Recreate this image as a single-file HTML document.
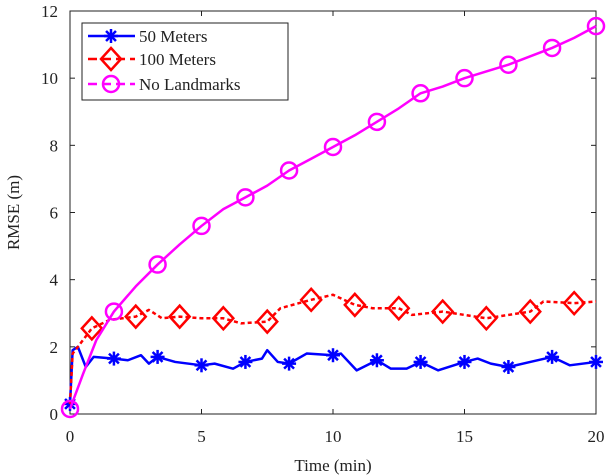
<!DOCTYPE html>
<html><head><meta charset="utf-8"><style>
body{margin:0;background:#fff}
svg{display:block;font-family:"Liberation Serif",serif}
</style></head><body>
<svg id="chart" width="606" height="476">
<rect x="0" y="0" width="606" height="476" fill="#fff"/>
<g id="axes"></g>
<g id="series"></g>
<g id="legend"></g>
</svg>
<script>
const blueT=[0,0.1,0.3,0.6,0.9,1.67,2.2,2.7,3,3.33,4,5,5.5,6.2,6.67,7.3,7.5,7.9,8.33,9,10,10.3,10.9,11.67,12.2,12.8,13.33,14,15,15.5,16,16.67,17.5,18.33,19,20];
const blueV=[0.3,1.9,2.0,1.4,1.7,1.65,1.6,1.75,1.5,1.7,1.55,1.45,1.5,1.35,1.55,1.65,1.9,1.55,1.5,1.8,1.75,1.8,1.3,1.6,1.35,1.35,1.55,1.3,1.55,1.65,1.5,1.4,1.55,1.7,1.45,1.55];
const redT=[0,0.1,0.3,0.83,1.5,2.5,3,3.5,4.17,5,5.83,6.5,7.5,8,9.17,10,10.83,11.5,12.5,13,14.17,15,15.83,16.67,17.5,18,19.17,20];
const redV=[0.3,1.8,2.0,2.55,2.8,2.9,3.1,2.85,2.9,2.85,2.85,2.7,2.75,3.15,3.4,3.55,3.25,3.15,3.15,2.95,3.05,2.95,2.85,2.95,3.05,3.35,3.3,3.35];
const magT=[0,0.5,1,1.67,2.5,3.33,4.17,5,5.83,6.67,7.5,8.33,9.17,10,10.83,11.67,12.5,13.33,14.17,15,15.83,16.67,17.5,18.33,19.17,20];
const magV=[0.15,1.2,2.2,3.05,3.8,4.45,5.05,5.6,6.1,6.45,6.8,7.25,7.6,7.95,8.3,8.7,9.1,9.55,9.75,10.0,10.2,10.4,10.65,10.9,11.2,11.55];
const blueMarkT=[0,1.67,3.33,5,6.67,8.33,10,11.67,13.33,15,16.67,18.33,20];
const redMarkT=[0.83,2.5,4.17,5.83,7.5,9.17,10.83,12.5,14.17,15.83,17.5,19.17];
const magMarkT=[0,1.67,3.33,5,6.67,8.33,10,11.67,13.33,15,16.67,18.33,20];
const xTicks=[0,5,10,15,20];
const yTicks=[0,2,4,6,8,10,12];
const legendLabels=["50 Meters","100 Meters","No Landmarks"];

const NS="http://www.w3.org/2000/svg";
const L=70,R=596,T=11,B=414;
const xs=v=>L+(v/20)*(R-L);
const ys=v=>B-(v/12)*(B-T);
function mk(tag,attrs,parent){const e=document.createElementNS(NS,tag);for(const k in attrs)e.setAttribute(k,attrs[k]);parent.appendChild(e);return e;}
function interp(T_,V,t){for(let i=0;i<T_.length-1;i++){if(t<=T_[i+1])return V[i]+(V[i+1]-V[i])*(t-T_[i])/(T_[i+1]-T_[i]);}return V[V.length-1];}
const ax=document.getElementById('axes');
const frame=mk('rect',{x:L,y:T,width:R-L,height:B-T,fill:'none',stroke:'#222','stroke-width':1},ax);


xTicks.forEach(v=>{
 const x=xs(v);
 mk('line',{x1:x,y1:B,x2:x,y2:B-5,stroke:'#222'},ax);
 mk('line',{x1:x,y1:T,x2:x,y2:T+5,stroke:'#222'},ax);
 const t=mk('text',{x:x,y:B+28,'text-anchor':'middle','font-size':17,fill:'#222'},ax);
 t.textContent=v;
 
 
});
yTicks.forEach(v=>{
 const y=ys(v);
 mk('line',{x1:L,y1:y,x2:L+5,y2:y,stroke:'#222'},ax);
 mk('line',{x1:R,y1:y,x2:R-5,y2:y,stroke:'#222'},ax);
 const t=mk('text',{x:L-12,y:y+6,'text-anchor':'end','font-size':17,fill:'#222'},ax);
 t.textContent=v;
 
 
});
const xt=mk('text',{x:(L+R)/2,y:471,'text-anchor':'middle','font-size':17,fill:'#222'},ax);
xt.textContent='Time (min)';


const yt=mk('text',{x:0,y:0,'text-anchor':'middle','font-size':17,fill:'#222',transform:`translate(19,${(T+B)/2}) rotate(-90)`},ax);
yt.textContent='RMSE (m)';



function star(g,x,y,c){for(let a=0;a<4;a++){const an=a*Math.PI/4;mk('line',{x1:x-7*Math.cos(an),y1:y-7*Math.sin(an),x2:x+7*Math.cos(an),y2:y+7*Math.sin(an),stroke:c,'stroke-width':2.5},g);}}
function diamond(g,x,y,c){mk('polygon',{points:`${x},${y-11} ${x+10},${y} ${x},${y+11} ${x-10},${y}`,fill:'none',stroke:c,'stroke-width':2.5},g);}
function circle(g,x,y,c){mk('circle',{cx:x,cy:y,r:8,fill:'none',stroke:c,'stroke-width':2.5},g);}
const S=document.getElementById('series');
const defs=[
 {name:'50-meters',T:blueT,V:blueV,M:blueMarkT,c:'#0000ff',dash:'',ld:'',m:star},
 {name:'100-meters',T:redT,V:redV,M:redMarkT,c:'#ff0000',dash:'4 3',ld:'9 5',m:diamond},
 {name:'no-landmarks',T:magT,V:magV,M:magMarkT,c:'#ff00ff',dash:'',ld:'9 5',m:circle}];
defs.forEach(d=>{
 const g=mk('g',{},S);
 
 
 const p=mk('polyline',{points:d.T.map((t,i)=>xs(t)+','+ys(d.V[i])).join(' '),fill:'none',stroke:d.c,'stroke-width':2.5,'stroke-dasharray':d.dash,'stroke-linejoin':'round'},g);
 
 
 d.M.forEach(t=>d.m(g,xs(t),ys(interp(d.T,d.V,t)),d.c));
});
const lg=document.getElementById('legend');


mk('rect',{x:82,y:23,width:206,height:77,fill:'#fff',stroke:'#222','stroke-width':1},lg);
const rowsY=[36,59,84];
defs.forEach((d,i)=>{
 const g=mk('g',{},lg);
 
 
 const y=rowsY[i];
 mk('line',{x1:88,y1:y,x2:135,y2:y,stroke:d.c,'stroke-width':2.5,'stroke-dasharray':d.ld},g);
 d.m(g,111,y,d.c);
 const t=mk('text',{x:139,y:y+6,'font-size':17,fill:'#222'},g);
 t.textContent=legendLabels[i];
});
</script>
</body></html>
